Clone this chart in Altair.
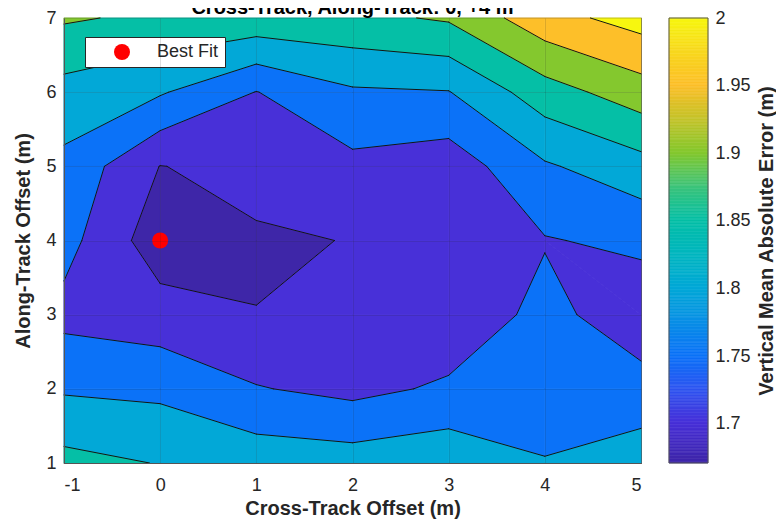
import altair as alt
import numpy as np
import pandas as pd

# ---------------- data ----------------
x_offsets = [-1, 0, 1, 2, 3, 4, 5]          # Cross-Track Offset (m)
y_offsets = [1, 2, 3, 4, 5, 6, 7]           # Along-Track Offset (m)

# Vertical mean absolute error (m), one list per along-track row (x = -1..5)
mae_y1 = [1.866, 1.848, 1.830, 1.824, 1.836, 1.803, 1.828]
mae_y2 = [1.794, 1.788, 1.753, 1.736, 1.758, 1.770, 1.768]
mae_y3 = [1.735, 1.721, 1.7007, 1.716, 1.714, 1.765, 1.720]
mae_y4 = [1.768, 1.671, 1.6952, 1.7011, 1.720, 1.747, 1.7605]
mae_y5 = [1.787, 1.699, 1.713, 1.737, 1.7212, 1.794, 1.831]
mae_y6 = [1.832, 1.805, 1.7487, 1.7934, 1.798, 1.878, 1.927]
mae_y7 = [1.906, 1.890, 1.884, 1.888, 1.906, 1.982, 2.020]

contour_levels = [1.70, 1.75, 1.80, 1.85, 1.90, 1.95, 2.00]
colorbar_ticks = [1.70, 1.75, 1.80, 1.85, 1.90, 1.95, 2.00]
colorbar_range = [1.671, 2.00]

# parula-like colour map
color_stops = [1.671, 1.70, 1.725, 1.75, 1.775, 1.80, 1.825, 1.85, 1.875,
               1.90, 1.925, 1.95, 1.975, 2.00]
color_hex = ["#3e26a8", "#4830d8", "#2f55f0", "#0b72f8", "#0a8fe6", "#02a8d7",
             "#02b6c0", "#05bfa6", "#3dc47a", "#84c82e", "#c4c32a", "#fdbf29",
             "#f8d81e", "#f7f70f"]

best_fit_x = [0]
best_fit_y = [4]
best_fit_label = ["Best Fit"]

# ---------------- filled contour geometry (marching squares) ----------------
grid = [mae_y1, mae_y2, mae_y3, mae_y4, mae_y5, mae_y6, mae_y7]


def saddle_level(vals):
    for lv in contour_levels:
        s = [v >= lv for v in vals]
        if s in ([True, False, True, False], [False, True, False, True]):
            return lv
    return None


pieces = []
for j in range(len(y_offsets) - 1):
    for i in range(len(x_offsets) - 1):
        x0, x1 = x_offsets[i], x_offsets[i + 1]
        y0, y1 = y_offsets[j], y_offsets[j + 1]
        c = [(x0, y0, grid[j][i]), (x1, y0, grid[j][i + 1]),
             (x1, y1, grid[j + 1][i + 1]), (x0, y1, grid[j + 1][i])]
        vals = [p[2] for p in c]
        lv = saddle_level(vals)
        if lv is None:
            pieces.append(c)
        else:
            centre_high = sum(vals) / 4 >= lv
            if (vals[0] >= lv) == centre_high:
                pieces.append([c[0], c[1], c[2]])
                pieces.append([c[0], c[2], c[3]])
            else:
                pieces.append([c[0], c[1], c[3]])
                pieces.append([c[1], c[2], c[3]])


def clip(poly, thr, keep_above):
    out = []
    n = len(poly)
    for k in range(n):
        p, q = poly[k], poly[(k + 1) % n]
        pin = p[2] >= thr if keep_above else p[2] < thr
        qin = q[2] >= thr if keep_above else q[2] < thr
        if pin:
            out.append(p)
        if pin != qin:
            t = (thr - p[2]) / (q[2] - p[2])
            out.append((p[0] + t * (q[0] - p[0]), p[1] + t * (q[1] - p[1]), thr))
    return out


band_low = [None] + contour_levels
band_high = contour_levels + [None]
band_color_value = [colorbar_range[0]] + contour_levels

poly_rows = []
pid = 0
for piece in pieces:
    for b in range(len(band_low)):
        poly = piece
        if band_low[b] is not None:
            poly = clip(poly, band_low[b], True)
        if poly and band_high[b] is not None:
            poly = clip(poly, band_high[b], False)
        if len(poly) >= 3:
            for k, p in enumerate(poly + [poly[0]]):
                poly_rows.append({"pid": pid, "k": k, "x": p[0], "y": p[1],
                                  "lev": band_color_value[b]})
            pid += 1
poly_df = pd.DataFrame(poly_rows)

seg_rows = []
sid = 0
for piece in pieces:
    n = len(piece)
    for lv in contour_levels:
        pts = []
        for k in range(n):
            p, q = piece[k], piece[(k + 1) % n]
            if (p[2] >= lv) != (q[2] >= lv):
                t = (lv - p[2]) / (q[2] - p[2])
                pts.append((p[0] + t * (q[0] - p[0]), p[1] + t * (q[1] - p[1])))
        if len(pts) == 2:
            for k, p in enumerate(pts):
                seg_rows.append({"sid": sid, "k": k, "x": p[0], "y": p[1]})
            sid += 1
seg_df = pd.DataFrame(seg_rows)

best_df = pd.DataFrame({"x": best_fit_x, "y": best_fit_y, "label": best_fit_label})

# colour bar: the colour scale sampled along its own range
cb_edges = np.linspace(colorbar_range[0], colorbar_range[1], 301)
cb_df = pd.DataFrame({"v0": cb_edges[:-1], "v1": cb_edges[1:]})
cb_frame_df = pd.DataFrame({"lo": [colorbar_range[0]], "hi": [colorbar_range[1]]})

# ---------------- chart ----------------
FONT = "Liberation Sans"
TXT = "#262626"

x_axis = alt.Axis(values=x_offsets, labelExpr="'' + datum.value",
                  title="Cross-Track Offset (m)", ticks=False, labelPadding=13,
                  titlePadding=4, labelFontSize=18, titleFontSize=20,
                  titleFontWeight="bold", labelFont=FONT, titleFont=FONT,
                  labelColor=TXT, titleColor=TXT, grid=True, gridColor="#262626",
                  gridOpacity=0.15, domainColor="#555555", zindex=1)
y_axis = alt.Axis(values=y_offsets, labelExpr="'' + datum.value",
                  title="Along-Track Offset (m)", ticks=False, labelPadding=8,
                  titlePadding=12, labelFontSize=18, titleFontSize=20,
                  titleFontWeight="bold", labelFont=FONT, titleFont=FONT,
                  labelColor=TXT, titleColor=TXT, grid=True, gridColor="#262626",
                  gridOpacity=0.15, domainColor="#555555", zindex=1)

x_enc = alt.X("x:Q", scale=alt.Scale(domain=[-1, 5], nice=False, zero=False), axis=x_axis)
y_enc = alt.Y("y:Q", scale=alt.Scale(domain=[1, 7], nice=False, zero=False), axis=y_axis)


def parula_scale():
    return alt.Scale(domain=color_stops, range=color_hex, interpolate="rgb")


fill_layer = alt.Chart(poly_df).mark_line(strokeWidth=0.8, strokeJoin="round").encode(
    x=x_enc, y=y_enc, order=alt.Order("k:Q"), detail="pid:N",
    fill=alt.Fill("lev:Q", scale=parula_scale(), legend=None),
    stroke=alt.Stroke("lev:Q", scale=parula_scale(), legend=None),
)

line_layer = alt.Chart(seg_df).mark_line(color="#141414", strokeWidth=1.0,
                                         strokeCap="round").encode(
    x=x_enc, y=y_enc, order=alt.Order("k:Q"), detail="sid:N")

point_layer = alt.Chart(best_df).mark_point(size=256, opacity=1, filled=True,
                                            color="#ff0000", strokeWidth=0).encode(
    x=x_enc, y=y_enc,
    shape=alt.Shape("label:N", scale=alt.Scale(domain=best_fit_label, range=["circle"]),
                    legend=alt.Legend(orient="none", legendX=21, legendY=19, title=None,
                                      fillColor="white", strokeColor="#262626",
                                      padding=6, symbolOffset=22, labelOffset=26,
                                      symbolSize=256, symbolFillColor="#ff0000",
                                      symbolStrokeWidth=0, labelFontSize=18,
                                      labelFont=FONT, labelColor=TXT)),
)

# colour bar on its own y scale, with its labels and title on a right-hand axis
cb_scale = alt.Scale(domain=colorbar_range, nice=False, zero=False)
cb_axis = alt.Axis(orient="right", offset=67, values=colorbar_ticks, format=".3~g",
                   ticks=False, domain=False, grid=False, labelPadding=7,
                   labelFontSize=18, labelFont=FONT, labelColor=TXT,
                   title="Vertical Mean Absolute Error (m)", titleAngle=270,
                   titleX=58, titleY=222.5, titleAlign="center", titleBaseline="middle",
                   titleFontSize=20, titleFontWeight="bold", titleFont=FONT,
                   titleColor=TXT)

cb_layer = alt.Chart(cb_df).mark_rect(strokeWidth=0.6).encode(
    x=alt.value(605), x2=alt.value(644),
    y=alt.Y("v0:Q", scale=cb_scale, axis=cb_axis), y2="v1:Q",
    color=alt.Color("v0:Q", scale=parula_scale(), legend=None),
    stroke=alt.Stroke("v0:Q", scale=parula_scale(), legend=None),
)
cb_frame = alt.Chart(cb_frame_df).mark_rect(fill=None, fillOpacity=0, stroke="#555555",
                                            strokeWidth=1).encode(
    x=alt.value(605), x2=alt.value(644),
    y=alt.Y("lo:Q", scale=cb_scale, axis=cb_axis), y2="hi:Q")

chart = alt.layer(
    alt.layer(fill_layer, line_layer, point_layer), alt.layer(cb_layer, cb_frame)
).resolve_scale(y="independent").properties(
    width=577, height=445,
    padding={"left": 56, "top": 10, "right": 135, "bottom": 56},
    autosize=alt.AutoSizeParams(type="none"),
    title=alt.Title("Cross-Track, Along-Track: 0, +4 m", fontSize=20, fontWeight="bold",
                    font=FONT, color="#000000", anchor="middle", offset=3, dy=28,
                    baseline="alphabetic", frame="group"),
).configure_view(stroke="#555555", strokeWidth=1.2)

chart.save("out.html", embed_options={"renderer": "svg", "actions": False})
